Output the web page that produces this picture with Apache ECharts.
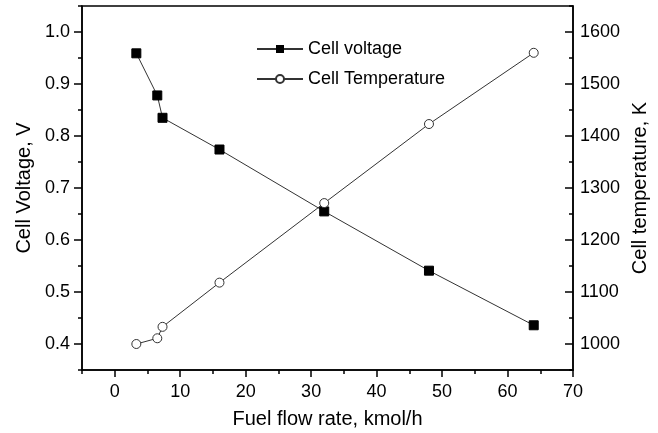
<!DOCTYPE html>
<html>
<head>
<meta charset="utf-8">
<script src="https://cdn.jsdelivr.net/npm/echarts@6/dist/echarts.min.js"></script>
<style>
html, body { margin: 0; padding: 0; background: #fff; }
#chart { width: 658px; height: 433px; }
</style>
</head>
<body>
<div id="chart"></div>
<script>
var flowRate = [3.3, 6.5, 7.3, 16, 32, 48, 64];
var cellVoltage = [0.959, 0.878, 0.835, 0.774, 0.655, 0.541, 0.436];
var cellTemp = [1000, 1011, 1033, 1118, 1271, 1423, 1560];

var xMajor = [0, 10, 20, 30, 40, 50, 60, 70];
var xMinor = [-5, 5, 15, 25, 35, 45, 55, 65];
var voltMajor = [0.4, 0.5, 0.6, 0.7, 0.8, 0.9, 1.0];
var voltMinor = [0.35, 0.45, 0.55, 0.65, 0.75, 0.85, 0.95, 1.05];
var tempMajor = [1000, 1100, 1200, 1300, 1400, 1500, 1600];
var tempMinor = [950, 1050, 1150, 1250, 1350, 1450, 1550, 1650];

var font = 'Liberation Sans, Arial, sans-serif';
var black = '#000';

function pairs(xs, ys) {
    return xs.map(function (x, i) { return [x, ys[i]]; });
}

// overlay axis used only to draw the short minor ticks
function minorAxis(min, max, values, position, inside) {
    return {
        type: 'value', min: min, max: max, position: position,
        axisLine: { show: false, onZero: false },
        axisTick: { show: true, inside: !!inside, length: 4, customValues: values, lineStyle: { color: black, width: 1.5 } },
        axisLabel: { show: false },
        splitLine: { show: false }
    };
}

var myChart = echarts.init(document.getElementById('chart'));
var option = {
    animation: false,
    backgroundColor: '#fff',
    textStyle: { fontFamily: font },
    grid: {
        left: 82, right: 85, top: 6, bottom: 63,
        outerBoundsMode: 'none',
        show: true, borderColor: black, borderWidth: 1.5
    },
    legend: {
        orient: 'vertical',
        left: 251, top: 35,
        itemWidth: 46, itemHeight: 10, itemGap: 12,
        textStyle: { fontSize: 18, color: black, fontFamily: font },
        data: ['Cell voltage', 'Cell Temperature']
    },
    xAxis: [{
        type: 'value', min: -5, max: 70,
        name: 'Fuel flow rate, kmol/h', nameLocation: 'middle', nameGap: 39,
        nameTextStyle: { fontSize: 20, color: black },
        axisLine: { onZero: false, lineStyle: { color: black, width: 1.5 } },
        axisTick: { length: 7, customValues: xMajor, lineStyle: { color: black, width: 1.5 } },
        axisLabel: { fontSize: 18, color: black, margin: 13, customValues: xMajor },
        splitLine: { show: false }
    }, minorAxis(-5, 70, xMinor, 'bottom')],
    yAxis: [{
        type: 'value', min: 0.35, max: 1.05,
        name: 'Cell Voltage, V', nameLocation: 'middle', nameGap: 45,
        nameTextStyle: { fontSize: 20, color: black },
        axisLine: { show: true, onZero: false, lineStyle: { color: black, width: 1.5 } },
        axisTick: { show: true, length: 8, customValues: voltMajor, lineStyle: { color: black, width: 1.5 } },
        axisLabel: {
            fontSize: 18, color: black, margin: 12, customValues: voltMajor,
            formatter: function (v) { return v.toFixed(1); }
        },
        splitLine: { show: false }
    }, {
        type: 'value', min: 950, max: 1650, position: 'right',
        name: 'Cell temperature, K', nameLocation: 'middle', nameGap: 52,
        nameRotate: 90,
        nameTextStyle: { fontSize: 20, color: black },
        axisLine: { show: true, onZero: false, lineStyle: { color: black, width: 1.5 } },
        axisTick: { show: true, inside: true, length: 8, customValues: tempMajor, lineStyle: { color: black, width: 1.5 } },
        axisLabel: {
            fontSize: 18, color: black, margin: 7, customValues: tempMajor,
            formatter: function (v) { return String(v); }
        },
        splitLine: { show: false }
    },
    minorAxis(0.35, 1.05, voltMinor, 'left'),
    minorAxis(950, 1650, tempMinor, 'right', true)],
    series: [{
        name: 'Cell voltage',
        type: 'line',
        yAxisIndex: 0,
        data: pairs(flowRate, cellVoltage),
        symbol: 'rect', symbolSize: 9,
        itemStyle: { color: black, borderColor: black },
        lineStyle: { color: '#333', width: 1 }
    }, {
        name: 'Cell Temperature',
        type: 'line',
        yAxisIndex: 1,
        data: pairs(flowRate, cellTemp),
        symbol: 'circle', symbolSize: 9,
        itemStyle: { color: '#fff', borderColor: '#333', borderWidth: 1 },
        lineStyle: { color: '#333', width: 1 }
    }]
};
myChart.setOption(option);
window.addEventListener('resize', function () {
    myChart.resize();
});
</script>
</body>
</html>
